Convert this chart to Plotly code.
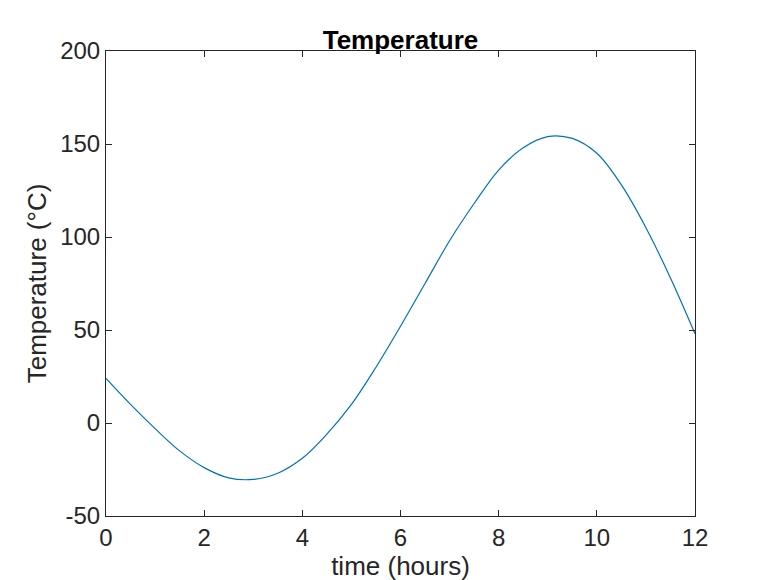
import plotly.graph_objects as go

time_h = [0, 0.5, 1, 1.5, 2, 2.5, 3, 3.5, 4, 4.5, 5, 5.5, 6, 6.5, 7, 7.5, 8, 8.5, 9, 9.5, 10, 10.5, 11, 11.5, 12]
temp_c = [24, 10, -3, -15, -24, -29.5, -30.3, -27, -19, -6, 10, 30, 52, 75, 98, 118, 136, 148, 154, 153, 145, 128, 105, 78, 48]
x_ticks = [0, 2, 4, 6, 8, 10, 12]
y_ticks = [-50, 0, 50, 100, 150, 200]
y_labels = ["-50", "0", "50", "100", "150", "200"]

fig = go.Figure(go.Scatter(x=time_h, y=temp_c, mode="lines",
                           line=dict(color="#0072BD", width=1.2, shape="spline", smoothing=1.0)))
ax = dict(showline=True, linecolor="#262626", linewidth=1, mirror="ticks", ticks="inside",
          ticklen=6, tickcolor="#262626", showgrid=False, zeroline=False, automargin=False,
          tickfont=dict(size=24, color="#262626"))
fig.update_xaxes(range=[0, 12], tickvals=x_ticks, title=dict(text="time (hours)", font=dict(size=26, color="#262626"), standoff=2), **ax)
fig.update_yaxes(range=[-50, 200], tickvals=y_ticks, ticktext=y_labels, title=dict(text="Temperature (°C)", font=dict(size=26, color="#262626"), standoff=6), **ax)
fig.update_layout(width=760, height=580, plot_bgcolor="white", paper_bgcolor="white",
                  font=dict(family="Liberation Sans, Arial, sans-serif"),
                  margin=dict(l=98, r=73, t=43, b=72, autoexpand=False), showlegend=False,
                  title=dict(text="<b>Temperature</b>", x=0.5, xanchor="center", xref="paper",
                             y=1.0, yref="paper", yanchor="bottom", pad=dict(b=2),
                             font=dict(size=26, color="black")))
fig.write_html("out.html")
